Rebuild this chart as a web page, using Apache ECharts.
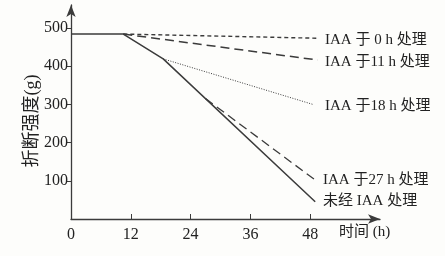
<!DOCTYPE html>
<html><head><meta charset="utf-8">
<script src="https://cdn.jsdelivr.net/npm/echarts@6/dist/echarts.min.js"></script>
<style>html,body{margin:0;padding:0;background:#fdfdfb}#c{width:445px;height:256px}</style>
</head><body><div id="c"></div>
<script>
// Data
const xTickValues = [0, 12, 24, 36, 48];
const yTickValues = [100, 200, 300, 400, 500];
const untreatedT = [0, 10.5, 18.5, 49];
const untreatedV = [484, 484, 419, 45];
const iaa0T = [10.5, 49.5];
const iaa0V = [484, 473];
const iaa11T = [10.5, 49.5];
const iaa11V = [484, 416];
const iaa18T = [18.5, 48.5];
const iaa18V = [419, 300];
const iaa27T = [27, 49];
const iaa27V = [315, 102];
const names = ['IAA 于 0 h 处理', 'IAA 于11 h 处理', 'IAA 于18 h 处理', 'IAA 于27 h 处理', '未经 IAA 处理'];

const pts = (t, v) => t.map((x, i) => [x, v[i]]);
const ink = '#3b3b3b';
const FONT = '"Liberation Serif","Noto Sans CJK SC",serif';

function mk(name, data, type, width, dist, dy) {
  return {
    name, type: 'line', data, symbol: 'none', silent: true, animation: false,
    lineStyle: { color: ink, width, type },
    endLabel: { show: true, formatter: '{a}', color: '#222', fontFamily: FONT, fontSize: 15, distance: dist, offset: [0, dy] }
  };
}

const chart = echarts.init(document.getElementById('c'));
chart.setOption({
  backgroundColor: '#fdfdfb',
  animation: false,
  grid: { left: 71, right: 65, top: 5, bottom: 37 },
  xAxis: {
    type: 'value', min: 0, max: 62,
    axisLine: { show: true, lineStyle: { color: ink, width: 1.3 }, symbol: ['none', 'arrow'], symbolSize: [7, 12] },
    axisTick: { inside: true, length: 5, lineStyle: { color: ink }, customValues: [12, 24, 36, 48] },
    axisLabel: { customValues: xTickValues, color: '#222', fontFamily: FONT, fontSize: 16, margin: 8 },
    splitLine: { show: false },
    name: '时间 (h)', nameLocation: 'end', nameGap: -41, nameMoveOverlap: false,
    nameTextStyle: { color: '#222', fontFamily: FONT, fontSize: 15, verticalAlign: 'top', padding: [6, 0, 0, 0] }
  },
  yAxis: {
    type: 'value', min: 0, max: 560,
    axisLine: { show: true, lineStyle: { color: ink, width: 1.3 }, symbol: ['none', 'arrow'], symbolSize: [7, 12] },
    axisTick: { show: true, length: 5, lineStyle: { color: ink }, customValues: yTickValues },
    axisLabel: { customValues: yTickValues, color: '#222', fontFamily: FONT, fontSize: 16, margin: 3 },
    splitLine: { show: false },
    name: '折断强度(g)', nameLocation: 'middle', nameGap: 30, nameMoveOverlap: false,
    nameTextStyle: { color: '#222', fontFamily: FONT, fontSize: 18, padding: [0, 18, 0, 0] }
  },
  series: [
    mk(names[0], pts(iaa0T, iaa0V), [4, 3], 1.4, 7.3, 1.5),
    mk(names[1], pts(iaa11T, iaa11V), [9, 5], 1.5, 7.3, 2.5),
    mk(names[2], pts(iaa18T, iaa18V), [1, 1.5], 1, 12.3, 1.5),
    mk(names[3], pts(iaa27T, iaa27V), [9, 5], 1.3, 7.8, 0),
    mk(names[4], pts(untreatedT, untreatedV), 'solid', 1.5, 7.8, -1)
  ]
});
</script></body></html>
